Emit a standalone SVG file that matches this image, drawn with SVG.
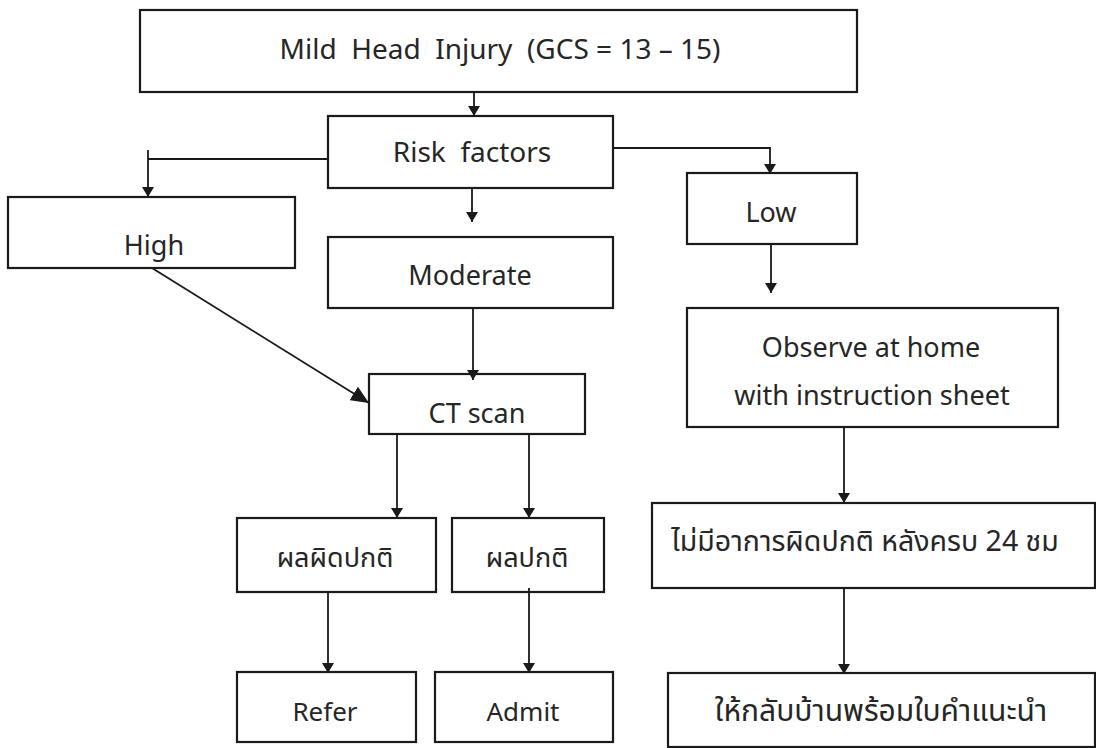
<svg xmlns="http://www.w3.org/2000/svg" width="1096" height="748" viewBox="0 0 1096 748">
  <style>
    .box { fill: #ffffff; stroke: #1a1a1a; stroke-width: 2.2; }
    .lbl { font-family: "Noto Sans", "Noto Sans Thai", "DejaVu Sans", sans-serif; fill: #262626; text-anchor: middle; white-space: pre; }
    .th { font-family: "Noto Sans Thai", "Noto Sans", "DejaVu Sans", sans-serif; fill: #262626; text-anchor: middle; }
    .edge { fill: none; stroke: #1a1a1a; stroke-width: 1.8; }
  </style>
  <defs>
    <marker id="arr" markerWidth="10" markerHeight="12" refX="10" refY="6" orient="auto" markerUnits="userSpaceOnUse" viewBox="0 0 10 12">
      <path d="M0,0 L10,6 L0,12 Z" fill="#1a1a1a"/>
    </marker>
    <marker id="arrBig" markerWidth="18" markerHeight="16" refX="18" refY="8" orient="auto" markerUnits="userSpaceOnUse" viewBox="0 0 18 16">
      <path d="M0,0 L18,8 L0,16 Z" fill="#1a1a1a"/>
    </marker>
  </defs>
  <rect width="1096" height="748" fill="#ffffff"/>

  <g id="mild-head-injury">
    <rect class="box" x="140" y="10" width="717" height="82"/>
    <text class="lbl" x="500" y="59" font-size="28">Mild  Head  Injury  (GCS = 13 – 15)</text>
  </g>
  <g id="risk-factors">
    <rect class="box" x="328" y="116" width="285" height="72"/>
    <text class="lbl" x="472" y="162" font-size="28">Risk  factors</text>
  </g>
  <g id="high">
    <rect class="box" x="8" y="197" width="287" height="71"/>
    <text class="lbl" x="154" y="255" font-size="27">High</text>
  </g>
  <g id="moderate">
    <rect class="box" x="328" y="237" width="285" height="71"/>
    <text class="lbl" x="470" y="285" font-size="27">Moderate</text>
  </g>
  <g id="low">
    <rect class="box" x="687" y="173" width="170" height="71"/>
    <text class="lbl" x="771" y="222" font-size="27">Low</text>
  </g>
  <g id="observe">
    <rect class="box" x="687" y="308" width="371" height="119"/>
    <text class="lbl" x="871" y="357" font-size="27">Observe at home</text>
    <text class="lbl" x="872" y="405" font-size="27">with instruction sheet</text>
  </g>
  <g id="ct-scan">
    <rect class="box" x="369" y="374" width="216" height="60"/>
    <text class="lbl" x="477" y="423" font-size="27">CT scan</text>
  </g>
  <g id="abnormal-result">
    <rect class="box" x="237" y="518" width="199" height="74"/>
    <text class="th" x="335" y="567" font-size="27">ผลผิดปกติ</text>
  </g>
  <g id="normal-result">
    <rect class="box" x="452" y="518" width="152" height="74"/>
    <text class="th" x="527" y="567" font-size="27">ผลปกติ</text>
  </g>
  <g id="refer">
    <rect class="box" x="237" y="672" width="179" height="70"/>
    <text class="lbl" x="325" y="721" font-size="26">Refer</text>
  </g>
  <g id="admit">
    <rect class="box" x="435" y="672" width="178" height="70"/>
    <text class="lbl" x="523" y="721" font-size="26">Admit</text>
  </g>
  <g id="no-symptoms">
    <rect class="box" x="652" y="503" width="443" height="85"/>
    <text class="th" x="865" y="551" font-size="28.5">ไม่มีอาการผิดปกติ หลังครบ 24 ชม</text>
  </g>
  <g id="go-home">
    <rect class="box" x="668" y="673" width="427" height="74"/>
    <text class="th" x="881" y="721" font-size="30">ให้กลับบ้านพร้อมใบคำแนะนำ</text>
  </g>

  <g id="connectors">
    <path class="edge" d="M474,92 V116" marker-end="url(#arr)"/>
    <path class="edge" d="M328,159 H148"/>
    <path class="edge" d="M148,150 V197" marker-end="url(#arr)"/>
    <path class="edge" d="M613,148 H770 V174" marker-end="url(#arr)"/>
    <path class="edge" d="M472,188 V222" marker-end="url(#arr)"/>
    <path class="edge" d="M771,244 V293" marker-end="url(#arr)"/>
    <path class="edge" d="M473,308 V380" marker-end="url(#arr)"/>
    <path class="edge" d="M152,268 L369,403" marker-end="url(#arrBig)"/>
    <path class="edge" d="M397,434 V518" marker-end="url(#arr)"/>
    <path class="edge" d="M529,434 V518" marker-end="url(#arr)"/>
    <path class="edge" d="M328,592 V673" marker-end="url(#arr)"/>
    <path class="edge" d="M529,588 V673" marker-end="url(#arr)"/>
    <path class="edge" d="M844,427 V503" marker-end="url(#arr)"/>
    <path class="edge" d="M844,588 V674" marker-end="url(#arr)"/>
  </g>
</svg>
